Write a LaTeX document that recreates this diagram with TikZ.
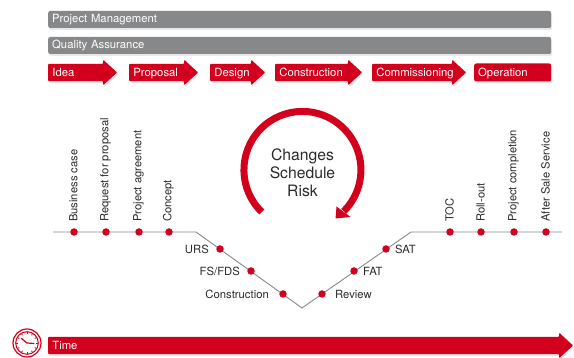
\documentclass[tikz,border=0pt]{standalone}
\usepackage{fontspec}
\setmainfont{TeX Gyre Heros}
\usetikzlibrary{positioning,shapes.arrows,shadows}
\definecolor{brandred}{HTML}{D2001C}
\definecolor{barngray}{HTML}{87888A}
\definecolor{textgray}{HTML}{2B2B2B}

\begin{document}
\begin{tikzpicture}[
		x=1pt,
		y=1pt,
		font=\fontsize{11.3}{13}\selectfont,
		softshadow/.style={
			drop shadow={opacity=0.18, shadow xshift=1pt, shadow yshift=-2pt}
		},
		bar/.style={
			rectangle,
			rounded corners=2pt,
			fill=barngray,
			softshadow,
			anchor=west,
			text=white,
			align=left,
			text width=495pt,
			text height=9pt,
			text depth=2pt,
			inner xsep=4pt,
			inner ysep=0pt,
			minimum height=17pt
		},
		phase/.style={
			single arrow,
			single arrow tip angle=85,
			single arrow head extend=4pt,
			rounded corners=0.8pt,
			fill=brandred,
			softshadow,
			anchor=tail,
			text=white,
			align=left,
			text width=#1,
			text height=9.5pt,
			text depth=1.5pt,
			inner xsep=4pt,
			inner ysep=3pt,
			minimum width=25pt
		},
		lastphase/.style={
			rectangle,
			rounded corners=2pt,
			fill=brandred,
			softshadow,
			anchor=west,
			text=white,
			align=left,
			text width=69pt,
			text height=9.5pt,
			text depth=1.5pt,
			inner xsep=4pt,
			inner ysep=0pt,
			minimum height=18pt
		},
		milestone/.style={
			circle,
			fill=brandred,
			inner sep=0pt,
			minimum size=7.5pt
		},
		uplabel/.style={
			rotate=90,
			anchor=west,
			inner sep=0pt,
			text=textgray,
			font=\fontsize{11.2}{13}\selectfont
		},
		sidelabel/.style={
			inner sep=0pt,
			text=textgray
		}
		]
		\useasboundingbox (0,0) rectangle (574,358);
		
		% we start with the bars and the phases
		\node [bar] (management) at (48,338.5) {Project Management};
		\node [bar] (quality) at (48,312.5) {Quality Assurance};
		
		\node [phase=51pt] (idea) at (48,285.5) {Idea};
		\node [phase=51pt] (proposal) at (129,285.5) {Proposal};
		\node [phase=37pt] (design) at (210,285.5) {Design};
		\node [phase=69pt] (construction) at (275,285.5) {\mbox{Construction}};
		\node [phase=76pt] (commissioning) at (372,285.5) {\mbox{Commissioning}};
		\node [lastphase] (operation) at (474,285.5) {Operation};
		
		% the time line
		\coordinate (lineleft) at (53,126);
		\coordinate (kneeleft) at (196,126);
		\coordinate (bottom) at (302,50);
		\coordinate (kneeright) at (411,126);
		\coordinate (lineright) at (562,126);
		\draw [barngray, line width=0.9pt] (lineleft) -- (kneeleft) -- (bottom) -- (kneeright) -- (lineright);
		
		\node [milestone] (business) at (74,126) {};
		\node [milestone] (request) at (106,126) {};
		\node [milestone] (agreement) at (139,126) {};
		\node [milestone] (concept) at (169,126) {};
		\node [milestone] (toc) at (450,126) {};
		\node [milestone] (rollout) at (481,126) {};
		\node [milestone] (completion) at (514,126) {};
		\node [milestone] (aftersale) at (546,126) {};
		\node [milestone] (urs) at (220,109) {};
		\node [milestone] (fsfds) at (251,87) {};
		\node [milestone] (build) at (283,64) {};
		\node [milestone] (review) at (322,64) {};
		\node [milestone] (fat) at (354,87) {};
		\node [milestone] (sat) at (386,109) {};
		
		% labels over the flat parts
		\node [uplabel] (businesslabel) at ([xshift=-0.5pt,yshift=10pt]business) {Business case};
		\node [uplabel] (requestlabel) at ([xshift=-0.5pt,yshift=10pt]request) {Request for proposal};
		\node [uplabel] (agreementlabel) at ([xshift=-0.5pt,yshift=10pt]agreement) {Project agreement};
		\node [uplabel] (conceptlabel) at ([xshift=-0.5pt,yshift=10pt]concept) {Concept};
		\node [uplabel] (toclabel) at ([xshift=-0.5pt,yshift=10pt]toc) {TOC};
		\node [uplabel] (rolloutlabel) at ([xshift=-0.5pt,yshift=10pt]rollout) {Roll-out};
		\node [uplabel] (completionlabel) at ([xshift=-0.5pt,yshift=10pt]completion) {Project completion};
		\node [uplabel] (aftersalelabel) at ([xshift=-0.5pt,yshift=10pt]aftersale) {After Sale Service};
		
		% labels beside the slopes
		\node [sidelabel, left=7pt of urs] (urslabel) {URS};
		\node [sidelabel, left=7pt of fsfds] (fsfdslabel) {FS/FDS};
		\node [sidelabel, left=10pt of build] (buildlabel) {Construction};
		\node [sidelabel, right=9pt of review] (reviewlabel) {Review};
		\node [sidelabel, right=5pt of fat] (fatlabel) {FAT};
		\node [sidelabel, right=5pt of sat] (satlabel) {SAT};
		
		% the loop in the middle
		\coordinate (loopstart) at (261.8,146);
		\draw [brandred, line width=7pt] (loopstart) arc [start angle=226, end angle=-45, radius=58.5];
		\coordinate (tip) at (335.5,139.5);
		\fill [brandred] (336.5,151.5) -- (tip) -- (350.5,141) -- cycle;
		\node [align=center, inner sep=0pt, text=textgray, font=\fontsize{15.7}{18}\selectfont] (loopnote) at (302.5,185.5) {Changes\\Schedule\\Risk};
		
		% time arrow and clock
		\node [phase=507pt] (time) at (48,12.5) {Time};
		\coordinate (clock) at (27,15);
		\draw [brandred, line width=1.2pt] (clock) circle (14);
		\draw [brandred, line width=1pt] (clock) circle (11.3);
		\foreach \ang in {0,30,...,330}
			\draw [brandred, line width=0.8pt] (clock) ++(\ang:9) -- ++(\ang:2);
		\draw [brandred, line width=1.2pt, line cap=round] (21.5,19.5) -- (clock) -- (34,14.5);
	\end{tikzpicture}
\end{document}
